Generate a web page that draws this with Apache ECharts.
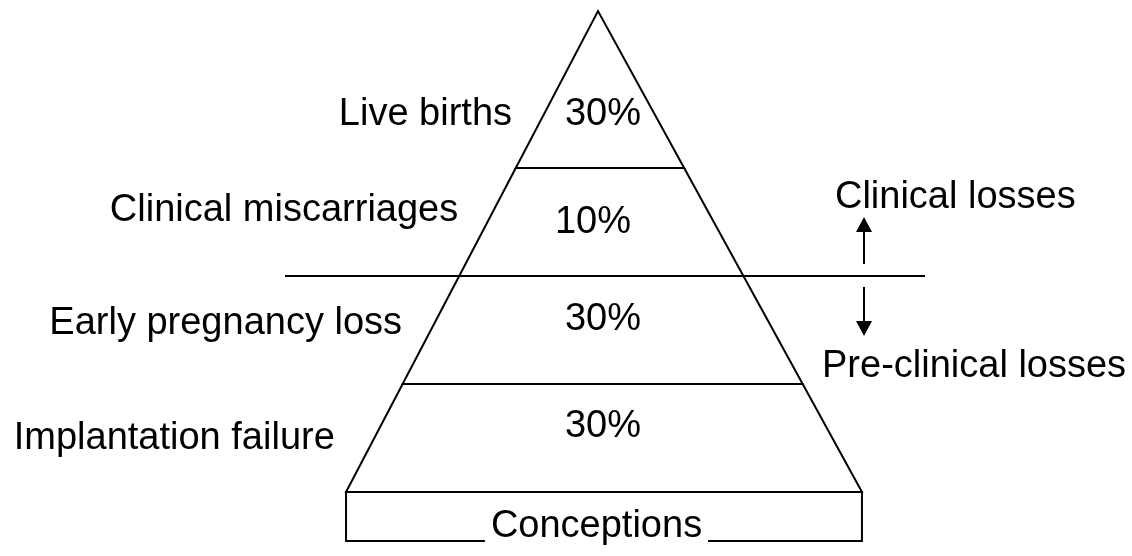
<!DOCTYPE html>
<html><head><meta charset="utf-8">
<script src="https://cdn.jsdelivr.net/npm/echarts@6/dist/echarts.min.js"></script>
<style>html,body{margin:0;padding:0;background:#fff}#c{width:1132px;height:556px}</style>
</head><body><div id="c"></div>
<script>
// ---- data ----
const tierNames = ['Implantation failure', 'Early pregnancy loss', 'Clinical miscarriages', 'Live births']; // bottom -> top
const tierPct = [30, 30, 10, 30];
const tierBounds = [0, 1, 2, 3, 4.4537]; // tier boundary levels (apex last)
const baseName = 'Conceptions';
const groupNames = ['Clinical losses', 'Pre-clinical losses'];
const groupSplitLevel = 2;

// ---- layout ----
const WL = 2.333, WR = 2.444; // half-widths of pyramid base, left / right (axis units)
const BASE_DEPTH = -0.4537;   // conceptions box depth
const APEX = tierBounds[tierBounds.length - 1];
const hl = l => WL * (1 - l / APEX);
const hr = l => WR * (1 - l / APEX);
const FS = 38;
const FF = '"Liberation Sans", Arial, Helvetica, sans-serif';
const nameDy = [1, -6, -11, 25.5], nameGap = [39, 32, 35, 31.5];
const pctDy = [-11, -10, 1, 25.5], pctDx = [5, 5, -5, 5];

const tierData = tierNames.map((n, i) => [tierBounds[i], tierBounds[i + 1], tierPct[i], i]);

function txt(text, x, y, align, extra) {
  return { type: 'text', style: Object.assign({ text: text, x: x, y: y, fill: '#000',
    fontSize: FS, fontFamily: FF, align: align, verticalAlign: 'middle' }, extra || {}) };
}

function renderTier(params, api) {
  const b = api.value(0), t = api.value(1), pct = api.value(2), i = api.value(3);
  const pts = [[-hl(b), b], [hr(b), b], [hr(t), t], [-hl(t), t]].map(p => api.coord(p));
  const c0 = api.coord([0, b]), c1 = api.coord([0, t]);
  const cy = (c0[1] + c1[1]) / 2;
  const ny = cy + nameDy[i];
  const lvl = b + (c0[1] - ny) / (c0[1] - c1[1]) * (t - b);
  const ex = api.coord([-hl(lvl), lvl])[0];
  return { type: 'group', children: [
    { type: 'polygon', shape: { points: pts }, style: { fill: 'none', stroke: '#000', lineWidth: 2 } },
    txt(tierNames[i], ex - nameGap[i], ny, 'right'),
    txt(pct + '%', c0[0] + pctDx[i], cy + pctDy[i], 'center')
  ]};
}

function renderSplit(params, api) {
  const lvl = api.value(0);
  const a = api.coord([-2.898, lvl]), b = api.coord([3.028, lvl]);
  const ax = api.coord([2.463, lvl]);
  const x = ax[0], y = ax[1];
  const gx = api.coord([2.194, lvl])[0], px = api.coord([2.074, lvl])[0];
  return { type: 'group', children: [
    { type: 'line', shape: { x1: a[0], y1: a[1], x2: b[0], y2: b[1] }, style: { stroke: '#000', lineWidth: 2 } },
    { type: 'line', shape: { x1: x, y1: y - 12, x2: x, y2: y - 44 }, style: { stroke: '#000', lineWidth: 2 } },
    { type: 'polygon', shape: { points: [[x - 8, y - 44], [x + 8, y - 44], [x, y - 59]] }, style: { fill: '#000' } },
    { type: 'line', shape: { x1: x, y1: y + 11, x2: x, y2: y + 45 }, style: { stroke: '#000', lineWidth: 2 } },
    { type: 'polygon', shape: { points: [[x - 8, y + 45], [x + 8, y + 45], [x, y + 60]] }, style: { fill: '#000' } },
    txt(groupNames[0], gx, y - 78, 'left'),
    txt(groupNames[1], px, y + 91, 'left')
  ]};
}

function renderBase(params, api) {
  const tl = api.coord([-WL, 0]), br = api.coord([WR, api.value(0)]);
  const mid = api.coord([0, api.value(0)]);
  return { type: 'group', children: [
    { type: 'rect', shape: { x: tl[0], y: tl[1], width: br[0] - tl[0], height: br[1] - tl[1] },
      style: { fill: 'none', stroke: '#000', lineWidth: 2 } },
    txt(baseName, mid[0] - 1.5, br[1] - 14, 'center', { backgroundColor: '#fff', padding: [0, 6] })
  ]};
}

const chart = echarts.init(document.getElementById('c'), null, { renderer: 'canvas' });
chart.setOption({
  animation: false,
  backgroundColor: '#fff',
  grid: { left: 4, top: 6, right: 0, height: 540 },
  xAxis: { type: 'value', min: -5.5, max: 4.9444, show: false },
  yAxis: { type: 'value', min: -0.5, max: 4.5, show: false },
  series: [
    { type: 'custom', renderItem: renderBase, data: [[BASE_DEPTH]], silent: true, z: 1 },
    { type: 'custom', renderItem: renderTier, data: tierData, silent: true, z: 2 },
    { type: 'custom', renderItem: renderSplit, data: [[groupSplitLevel]], silent: true, z: 3 }
  ]
});
</script>
</body></html>
